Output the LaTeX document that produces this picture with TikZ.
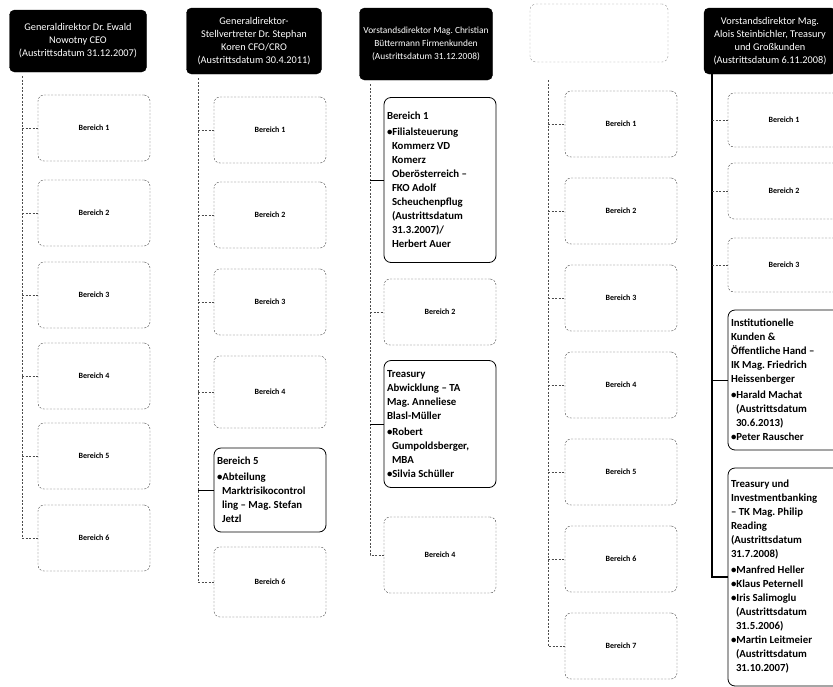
\documentclass[tikz,border=0pt]{standalone}
\usepackage{fontspec}
\setmainfont{Carlito}
\usepackage{tikz}

\begin{document}
\begin{tikzpicture}[x = 1pt, y = -1pt,
    head/.style = {fill = black, draw = black, rounded corners = 5pt, text = white,
        align = center, inner sep = 1pt, font = \fontsize{10.3}{13}\selectfont},
    area/.style = {draw = black!75, dash pattern = on 2pt off 1.5pt, rounded corners = 6pt,
        minimum width = 112pt, minimum height = 66pt,
        font = \fontsize{8}{10}\selectfont\bfseries},
    blank/.style = {draw = black!45, dash pattern = on 2pt off 2pt, rounded corners = 6pt},
    unit/.style = {draw = black, thick, rounded corners = 7pt, fill = white,
        align = flush left, text width = 106pt, inner sep = 3pt,
        font = \fontsize{10.8}{14}\selectfont\bfseries},
    trunk/.style = {black!70, dash pattern = on 2pt off 1.5pt, thick},
    link/.style = {black!70, dash pattern = on 2pt off 1.5pt, thick},
    hold/.style = {black, thick}]

    \useasboundingbox (0,0) rectangle (833,686);

    % Generaldirektor
    \node [head, minimum width = 137pt, minimum height = 62pt] (gd) at (78,41)
        {Generaldirektor Dr.\ Ewald\\Nowotny CEO\\(Austrittsdatum 31.12.2007)};
    \coordinate (gdline) at (22,76);
    \node [area] (gd1) at (94,128) {Bereich 1};
    \node [area] (gd2) at (94,213) {Bereich 2};
    \node [area] (gd3) at (94,295) {Bereich 3};
    \node [area] (gd4) at (94,376) {Bereich 4};
    \node [area] (gd5) at (94,456) {Bereich 5};
    \node [area] (gd6) at (94,538) {Bereich 6};
    \draw [trunk] (gdline) |- (gd6.west);
    \draw [link] (gd1.west -| gdline) -- (gd1.west);
    \draw [link] (gd2.west -| gdline) -- (gd2.west);
    \draw [link] (gd3.west -| gdline) -- (gd3.west);
    \draw [link] (gd4.west -| gdline) -- (gd4.west);
    \draw [link] (gd5.west -| gdline) -- (gd5.west);

    % Generaldirektor-Stellvertreter
    \node [head, minimum width = 135pt, minimum height = 66pt] (gs) at (254,41)
        {Generaldirektor-\\Stellvertreter Dr.\ Stephan\\Koren CFO/CRO\\(Austrittsdatum 30.4.2011)};
    \coordinate (gsline) at (198,78);
    \node [area] (gs1) at (270,130) {Bereich 1};
    \node [area] (gs2) at (270,215) {Bereich 2};
    \node [area] (gs3) at (270,302) {Bereich 3};
    \node [area, minimum height = 72pt] (gs4) at (270,392) {Bereich 4};
    \node [unit, minimum height = 84pt] (gs5) at (270,490)
        {Bereich 5\\[2pt]
         \textbullet Abteilung\\
         \hspace*{5pt}Marktrisikocontrol\\
         \hspace*{5pt}ling -- Mag.\ Stefan\\
         \hspace*{5pt}Jetzl};
    \node [area, minimum height = 70pt] (gs6) at (270,582) {Bereich 6};
    \draw [trunk] (gsline) |- (gs6.west);
    \draw [link] (gs1.west -| gsline) -- (gs1.west);
    \draw [link] (gs2.west -| gsline) -- (gs2.west);
    \draw [link] (gs3.west -| gsline) -- (gs3.west);
    \draw [link] (gs4.west -| gsline) -- (gs4.west);
    \draw [hold] (gs5.west -| gsline) -- (gs5.west);

    % Vorstand Firmenkunden
    \node [head, minimum width = 133pt, minimum height = 72pt,
        font = \fontsize{9.4}{13}\selectfont] (vf) at (426,44)
        {Vorstandsdirektor Mag.\ Christian\\Büttermann Firmenkunden\\(Austrittsdatum 31.12.2008)};
    \coordinate (vfline) at (370,84);
    \node [unit, minimum height = 165pt] (vf1) at (440,180)
        {Bereich 1\\[2pt]
         \textbullet Filialsteuerung\\
         \hspace*{5pt}Kommerz VD\\
         \hspace*{5pt}Komerz\\
         \hspace*{5pt}Oberösterreich --\\
         \hspace*{5pt}FKO Adolf\\
         \hspace*{5pt}Scheuchenpflug\\
         \hspace*{5pt}(Austrittsdatum\\
         \hspace*{5pt}31.3.2007)/\\
         \hspace*{5pt}Herbert Auer};
    \node [area] (vf2) at (440,312) {Bereich 2};
    \node [unit, minimum height = 127pt] (vf3) at (440,424)
        {Treasury\\Abwicklung -- TA\\Mag.\ Anneliese\\Blasl-Müller\\[2pt]
         \textbullet Robert\\
         \hspace*{5pt}Gumpoldsberger,\\
         \hspace*{5pt}MBA\\
         \textbullet Silvia Schüller};
    \node [area, minimum height = 76pt] (vf4) at (440,555) {Bereich 4};
    \draw [trunk] (vfline) |- (vf4.west);
    \draw [hold] (vf1.west -| vfline) -- (vf1.west);
    \draw [link] (vf2.west -| vfline) -- (vf2.west);
    \draw [hold] (vf3.west -| vfline) -- (vf3.west);

    % Spalte ohne Kopf
    \node [blank, minimum width = 138pt, minimum height = 58pt] (vx) at (599,33) {};
    \coordinate (vxline) at (548,80);
    \node [area] (vx1) at (621,124) {Bereich 1};
    \node [area] (vx2) at (621,211) {Bereich 2};
    \node [area] (vx3) at (621,298) {Bereich 3};
    \node [area] (vx4) at (621,385) {Bereich 4};
    \node [area] (vx5) at (621,472) {Bereich 5};
    \node [area] (vx6) at (621,559) {Bereich 6};
    \node [area] (vx7) at (621,646) {Bereich 7};
    \draw [trunk] (vxline) |- (vx7.west);
    \draw [link] (vx1.west -| vxline) -- (vx1.west);
    \draw [link] (vx2.west -| vxline) -- (vx2.west);
    \draw [link] (vx3.west -| vxline) -- (vx3.west);
    \draw [link] (vx4.west -| vxline) -- (vx4.west);
    \draw [link] (vx5.west -| vxline) -- (vx5.west);
    \draw [link] (vx6.west -| vxline) -- (vx6.west);

    % Vorstand Treasury und Grosskunden
    \node [head, minimum width = 132pt, minimum height = 66pt] (vs) at (770,41)
        {Vorstandsdirektor Mag.\\Alois Steinbichler, Treasury\\und Großkunden\\(Austrittsdatum 6.11.2008)};
    \coordinate (vsline) at (712,74);
    \node [area, minimum height = 54pt] (vs1) at (784,120) {Bereich 1};
    \node [area, minimum height = 56pt] (vs2) at (784,191) {Bereich 2};
    \node [area, minimum height = 54pt] (vs3) at (784,265) {Bereich 3};
    \node [unit, minimum height = 140pt] (vs4) at (784,380)
        {Institutionelle\\Kunden \&\\Öffentliche Hand --\\IK Mag.\ Friedrich\\Heissenberger\\[2pt]
         \textbullet Harald Machat\\
         \hspace*{5pt}(Austrittsdatum\\
         \hspace*{5pt}30.6.2013)\\
         \textbullet Peter Rauscher};
    \node [unit, minimum height = 218pt] (vs5) at (784,577)
        {Treasury und\\Investmentbanking\\-- TK Mag.\ Philip\\Reading\\(Austrittsdatum\\31.7.2008)\\[2pt]
         \textbullet Manfred Heller\\
         \textbullet Klaus Peternell\\
         \textbullet Iris Salimoglu\\
         \hspace*{5pt}(Austrittsdatum\\
         \hspace*{5pt}31.5.2006)\\
         \textbullet Martin Leitmeier\\
         \hspace*{5pt}(Austrittsdatum\\
         \hspace*{5pt}31.10.2007)};
    \draw [black, line width = 1.6pt] (vsline) |- (vs5.west);
    \draw [link] (vs1.west -| vsline) -- (vs1.west);
    \draw [link] (vs2.west -| vsline) -- (vs2.west);
    \draw [link] (vs3.west -| vsline) -- (vs3.west);
    \draw [hold] (vs4.west -| vsline) -- (vs4.west);
\end{tikzpicture}
\end{document}
